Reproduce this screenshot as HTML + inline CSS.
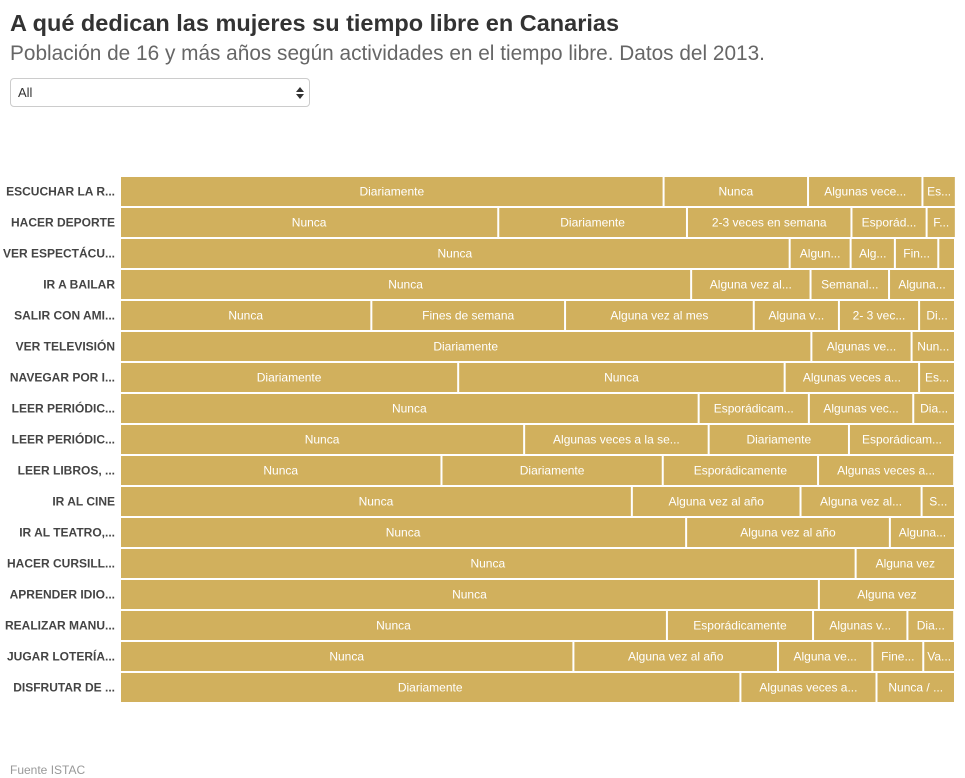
<!DOCTYPE html>
<html><head><meta charset="utf-8"><style>
body{margin:0;background:#fff;font-family:"Liberation Sans",sans-serif;width:965px;height:778px;overflow:hidden;position:relative}
#title{position:absolute;left:10px;top:10px;font-size:23.5px;font-weight:bold;color:#333;margin:0;white-space:nowrap}
#sub{position:absolute;left:10px;top:42px;font-size:20.8px;color:#666;margin:0;white-space:nowrap}
#sel{position:absolute;left:10px;top:78px;width:298px;height:27px;border:1px solid #ccc;border-radius:4px;box-sizing:content-box;font-size:13px;color:#333}
#sel span{position:absolute;left:7px;top:6px}
#src{position:absolute;left:10px;top:763px;font-size:12px;color:#999}
svg{position:absolute;left:0;top:0}
</style></head><body>
<h1 id="title">A qué dedican las mujeres su tiempo libre en Canarias</h1>
<p id="sub">Población de 16 y más años según actividades en el tiempo libre. Datos del 2013.</p>
<div id="sel"><span>All</span>
<svg width="10" height="14" style="left:284px;top:7px"><path d="M1 6L5 1L9 6Z M1 8L5 13L9 8Z" fill="#333"/></svg></div>
<svg id="chart" width="965" height="778"></svg>
<div id="src">Fuente ISTAC</div>
<script>
const categories=["ESCUCHAR LA R...","HACER DEPORTE","VER ESPECTÁCU...","IR A BAILAR","SALIR CON AMI...","VER TELEVISIÓN","NAVEGAR POR I...","LEER PERIÓDIC...","LEER PERIÓDIC...","LEER LIBROS, ...","IR AL CINE","IR AL TEATRO,...","HACER CURSILL...","APRENDER IDIO...","REALIZAR MANU...","JUGAR LOTERÍA...","DISFRUTAR DE ..."];
const values=[[65.1,17.3,13.7,4.0],[45.3,22.6,19.7,9.0,3.5],[80.2,7.3,5.3,5.2,2.0],[68.4,14.3,9.4,7.9],[30.1,23.2,22.6,10.2,9.6,4.3],[82.8,12.0,5.2],[40.5,39.1,16.1,4.3],[69.3,13.2,12.5,5.0],[48.4,22.1,16.8,12.7],[38.5,26.5,18.6,16.3],[61.3,20.2,14.5,4.0],[67.8,24.4,7.8],[88.1,11.9],[83.7,16.3],[65.5,17.5,11.3,5.6],[54.3,24.5,11.3,6.1,3.8],[74.3,16.3,9.4]];
const segLabels=[["Diariamente","Nunca","Algunas vece...","Es..."],["Nunca","Diariamente","2-3 veces en semana","Esporád...","F..."],["Nunca","Algun...","Alg...","Fin...",""],["Nunca","Alguna vez al...","Semanal...","Alguna..."],["Nunca","Fines de semana","Alguna vez al mes","Alguna v...","2- 3 vec...","Di..."],["Diariamente","Algunas ve...","Nun..."],["Diariamente","Nunca","Algunas veces a...","Es..."],["Nunca","Esporádicam...","Algunas vec...","Dia..."],["Nunca","Algunas veces a la se...","Diariamente","Esporádicam..."],["Nunca","Diariamente","Esporádicamente","Algunas veces a..."],["Nunca","Alguna vez al año","Alguna vez al...","S..."],["Nunca","Alguna vez al año","Alguna..."],["Nunca","Alguna vez"],["Nunca","Alguna vez"],["Nunca","Esporádicamente","Algunas v...","Dia..."],["Nunca","Alguna vez al año","Alguna ve...","Fine...","Va..."],["Diariamente","Algunas veces a...","Nunca / ..."]];
const NS="http://www.w3.org/2000/svg";
const svg=document.getElementById('chart');
const X0=121,X1=956,Y0=177,STEP=31,BH=29;
function xs(v){return X0+v/100*(X1-X0);}
function ys(i){return Y0+i*STEP;}
categories.forEach((c,i)=>{
  const t=document.createElementNS(NS,'text');
  t.setAttribute('x',115);t.setAttribute('y',ys(i)+BH/2+4);
  t.setAttribute('text-anchor','end');t.setAttribute('font-size','12');t.setAttribute('font-weight','bold');t.setAttribute('fill','#444');
  t.textContent=c;
  
  
  svg.appendChild(t);
  let acc=0;
  values[i].forEach((v,j)=>{
    const a=xs(acc),b=xs(acc+v);acc+=v;
    const r=document.createElementNS(NS,'rect');
    r.setAttribute('x',a);r.setAttribute('y',ys(i));
    r.setAttribute('width',Math.max(0,b-a-2));r.setAttribute('height',BH);
    r.setAttribute('fill','#d1b05d');
    
    
    svg.appendChild(r);
    const l=document.createElementNS(NS,'text');
    l.setAttribute('x',(a+b-2)/2);l.setAttribute('y',ys(i)+BH/2+4);
    l.setAttribute('text-anchor','middle');l.setAttribute('font-size','12');l.setAttribute('fill','#fff');
    l.textContent=segLabels[i][j]||'';
    
    
    svg.appendChild(l);
  });
});
</script>
</body></html>
